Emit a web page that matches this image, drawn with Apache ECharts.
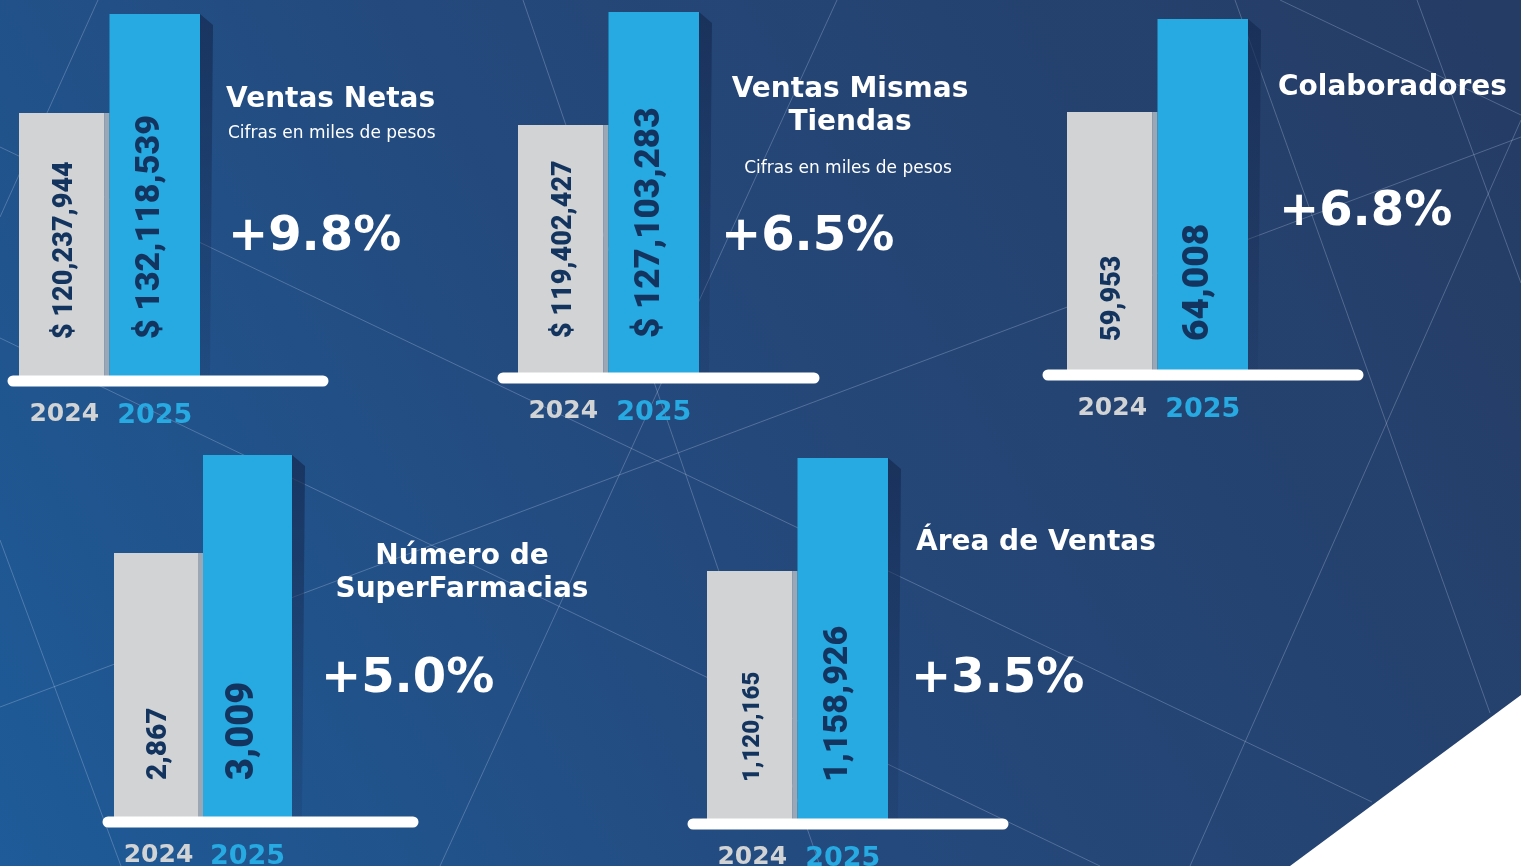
<!DOCTYPE html>
<html>
<head>
<meta charset="utf-8">
<script src="https://cdn.jsdelivr.net/npm/echarts@6/dist/echarts.min.js"></script>
<style>
html,body{margin:0;padding:0;background:#234a7c;}
#chart{width:1521px;height:866px;}
</style>
</head>
<body>
<div id="chart"></div>
<script>
// ---------- DATA ----------
const categories = ['2024', '2025'];
const ventasNetas = [120237944, 132118539];
const ventasMismasTiendas = [119402427, 127103283];
const colaboradores = [59953, 64008];
const superFarmacias = [2867, 3009];
const areaVentas = [1120165, 1158926];
const panelTitles = ['Ventas Netas', 'Ventas Mismas\nTiendas', 'Colaboradores', 'Número de\nSuperFarmacias', 'Área de Ventas'];
const panelSubtitles = ['Cifras en miles de pesos', 'Cifras en miles de pesos', '', '', ''];
const growthLabels = ['+9.8%', '+6.5%', '+6.8%', '+5.0%', '+3.5%'];
const valuePrefixes = ['$ ', '$ ', '', '', ''];
const axisMins = [88700000, 102500000, 48700, 2485, 1035000];

const panels = [ventasNetas, ventasMismasTiendas, colaboradores, superFarmacias, areaVentas];

// ---------- LAYOUT / STYLE ----------
const grids = [
  {left: 19,   top: 14,  width: 181, height: 362},
  {left: 518,  top: 12,  width: 181, height: 361},
  {left: 1067, top: 19,  width: 181, height: 351},
  {left: 114,  top: 455, width: 178, height: 362},
  {left: 707,  top: 458, width: 181, height: 361}
];
const labelFonts = [[27, 34], [27, 35], [27, 37], [28, 38], [24, 34]];
const labelBottomGap = [37, 35, 29, 37, 37];
const baseLines = [[8, 328, 381], [498, 819, 378], [1043, 1363, 375], [103, 418, 822], [688, 1008, 824]];
const titlePos = [
  {x: 226, y: 100, align: 'left'},
  {x: 850, y: 106, align: 'center'},
  {x: 1278, y: 88, align: 'left'},
  {x: 462, y: 573, align: 'center'},
  {x: 916, y: 543, align: 'left'}
];
const subPos = [{x: 228, y: 134, align: 'left'}, {x: 848, y: 169, align: 'center'}];
const growthPos = [{x: 228, y: 238}, {x: 721, y: 238}, {x: 1279, y: 213}, {x: 321, y: 680}, {x: 911, y: 680}];
const decoLines = [
  [98, 0, 0, 217], [0, 147, 1372, 802], [0, 338, 1100, 866], [523, 0, 820, 866],
  [837, 0, 440, 866], [0, 707, 1521, 137], [1235, 0, 1490, 713], [1280, 0, 1521, 115],
  [1417, 0, 1521, 283], [1521, 120, 1190, 866], [0, 540, 121, 866]
];

const GRAY = '#d1d3d5', GRAY_EDGE = '#9ba7b5', BLUE = '#27a9e1', NAVY = '#13345e';
const TITLE_FONT = '"DejaVu Sans", sans-serif';
const LABEL_FONT = 'Roboto, "DejaVu Sans", sans-serif';

function fmt(v) { return v.toLocaleString('en-US'); }

function makeRender(pi) {
  return function (params, api) {
    const idx = params.dataIndex;
    const x = api.value(0), v = api.value(1);
    const topPt = api.coord([x, v]);
    const cs = params.coordSys;
    const bottom = cs.y + cs.height;
    const band = api.size([1, 0])[0];
    const left = topPt[0] - band / 2, right = topPt[0] + band / 2;
    const topY = topPt[1];
    const children = [];
    let labelX;
    if (idx === 0) {
      children.push({type: 'rect', shape: {x: left, y: topY, width: band - 5, height: bottom - topY}, style: {fill: GRAY}});
      children.push({type: 'rect', shape: {x: right - 5, y: topY, width: 5, height: bottom - topY}, style: {fill: GRAY_EDGE}});
      labelX = left + (band - 5) / 2 + 3;
    } else {
      children.push({type: 'polygon', shape: {points: [[right, topY], [right + 13, topY + 11], [right + 10, bottom], [right, bottom]]},
        style: {fill: {type: 'linear', x: 0, y: 0, x2: 0, y2: 1, colorStops: [{offset: 0, color: 'rgba(22,44,84,0.75)'}, {offset: 1, color: 'rgba(22,44,84,0.15)'}]}}});
      children.push({type: 'rect', shape: {x: left, y: topY, width: band, height: bottom - topY}, style: {fill: BLUE}});
      labelX = topPt[0] - 4;
    }
    children.push({
      type: 'text', x: labelX, y: bottom - labelBottomGap[pi], rotation: Math.PI / 2,
      style: {text: valuePrefixes[pi] + fmt(v), fill: NAVY, font: '900 ' + labelFonts[pi][idx] + 'px ' + LABEL_FONT,
        align: 'left', verticalAlign: 'middle', textAlign: 'left', textVerticalAlign: 'middle'}
    });
    return {type: 'group', children: children};
  };
}

const graphics = [];
decoLines.forEach(l => graphics.push({type: 'line', z: -5, silent: true, shape: {x1: l[0], y1: l[1], x2: l[2], y2: l[3]},
  style: {stroke: 'rgba(200,215,240,0.28)', lineWidth: 1}}));
graphics.push({type: 'polygon', z: -4, shape: {points: [[1521, 695], [1521, 866], [1290, 866]]}, style: {fill: '#ffffff'}});
baseLines.forEach(b => graphics.push({type: 'line', z: 10, shape: {x1: b[0] + 5, y1: b[2], x2: b[1] - 5, y2: b[2]},
  style: {stroke: '#ffffff', lineWidth: 11, lineCap: 'round'}}));
panelTitles.forEach((t, i) => graphics.push({type: 'text', z: 10, x: titlePos[i].x, y: titlePos[i].y,
  style: {text: t, fill: '#ffffff', font: 'bold 28px ' + TITLE_FONT, lineHeight: 33,
    align: titlePos[i].align, verticalAlign: 'middle', textAlign: titlePos[i].align, textVerticalAlign: 'middle'}}));
panelSubtitles.forEach((t, i) => { if (t) graphics.push({type: 'text', z: 10, x: subPos[i].x, y: subPos[i].y,
  style: {text: t, fill: '#ffffff', font: '17px ' + TITLE_FONT,
    align: subPos[i].align, verticalAlign: 'middle', textAlign: subPos[i].align, textVerticalAlign: 'middle'}}); });
growthLabels.forEach((t, i) => graphics.push({type: 'text', z: 10, x: growthPos[i].x, y: growthPos[i].y,
  style: {text: t, fill: '#ffffff', font: 'bold 48px ' + TITLE_FONT,
    align: 'left', verticalAlign: 'middle', textAlign: 'left', textVerticalAlign: 'middle'}}));

const option = {
  animation: false,
  backgroundColor: {type: 'linear', x: 0, y: 1, x2: 1, y2: 0, colorStops: [
    {offset: 0, color: '#1e5b98'}, {offset: 0.45, color: '#24497c'}, {offset: 1, color: '#253c64'}]},
  grid: grids.map(g => Object.assign({containLabel: false, outerBoundsMode: 'none'}, g)),
  xAxis: panels.map((p, i) => ({
    type: 'category', gridIndex: i, data: categories,
    axisLine: {show: false}, axisTick: {show: false}, splitLine: {show: false},
    axisLabel: {margin: 26, formatter: (v, j) => '{y' + j + '|' + v + '}',
      rich: {
        y0: {color: GRAY, fontSize: 25, fontWeight: 'bold', fontFamily: TITLE_FONT},
        y1: {color: BLUE, fontSize: 27, fontWeight: 'bold', fontFamily: TITLE_FONT}
      }}
  })),
  yAxis: panels.map((p, i) => ({type: 'value', gridIndex: i, min: axisMins[i], max: 'dataMax', show: false, splitLine: {show: false}})),
  series: panels.map((p, i) => ({
    type: 'custom', xAxisIndex: i, yAxisIndex: i, z: 5,
    renderItem: makeRender(i),
    encode: {x: 0, y: 1},
    data: p.map((v, j) => [j, v])
  })),
  graphic: graphics
};

const chart = echarts.init(document.getElementById('chart'), null, {renderer: 'canvas'});
chart.setOption(option);
</script>
</body>
</html>
